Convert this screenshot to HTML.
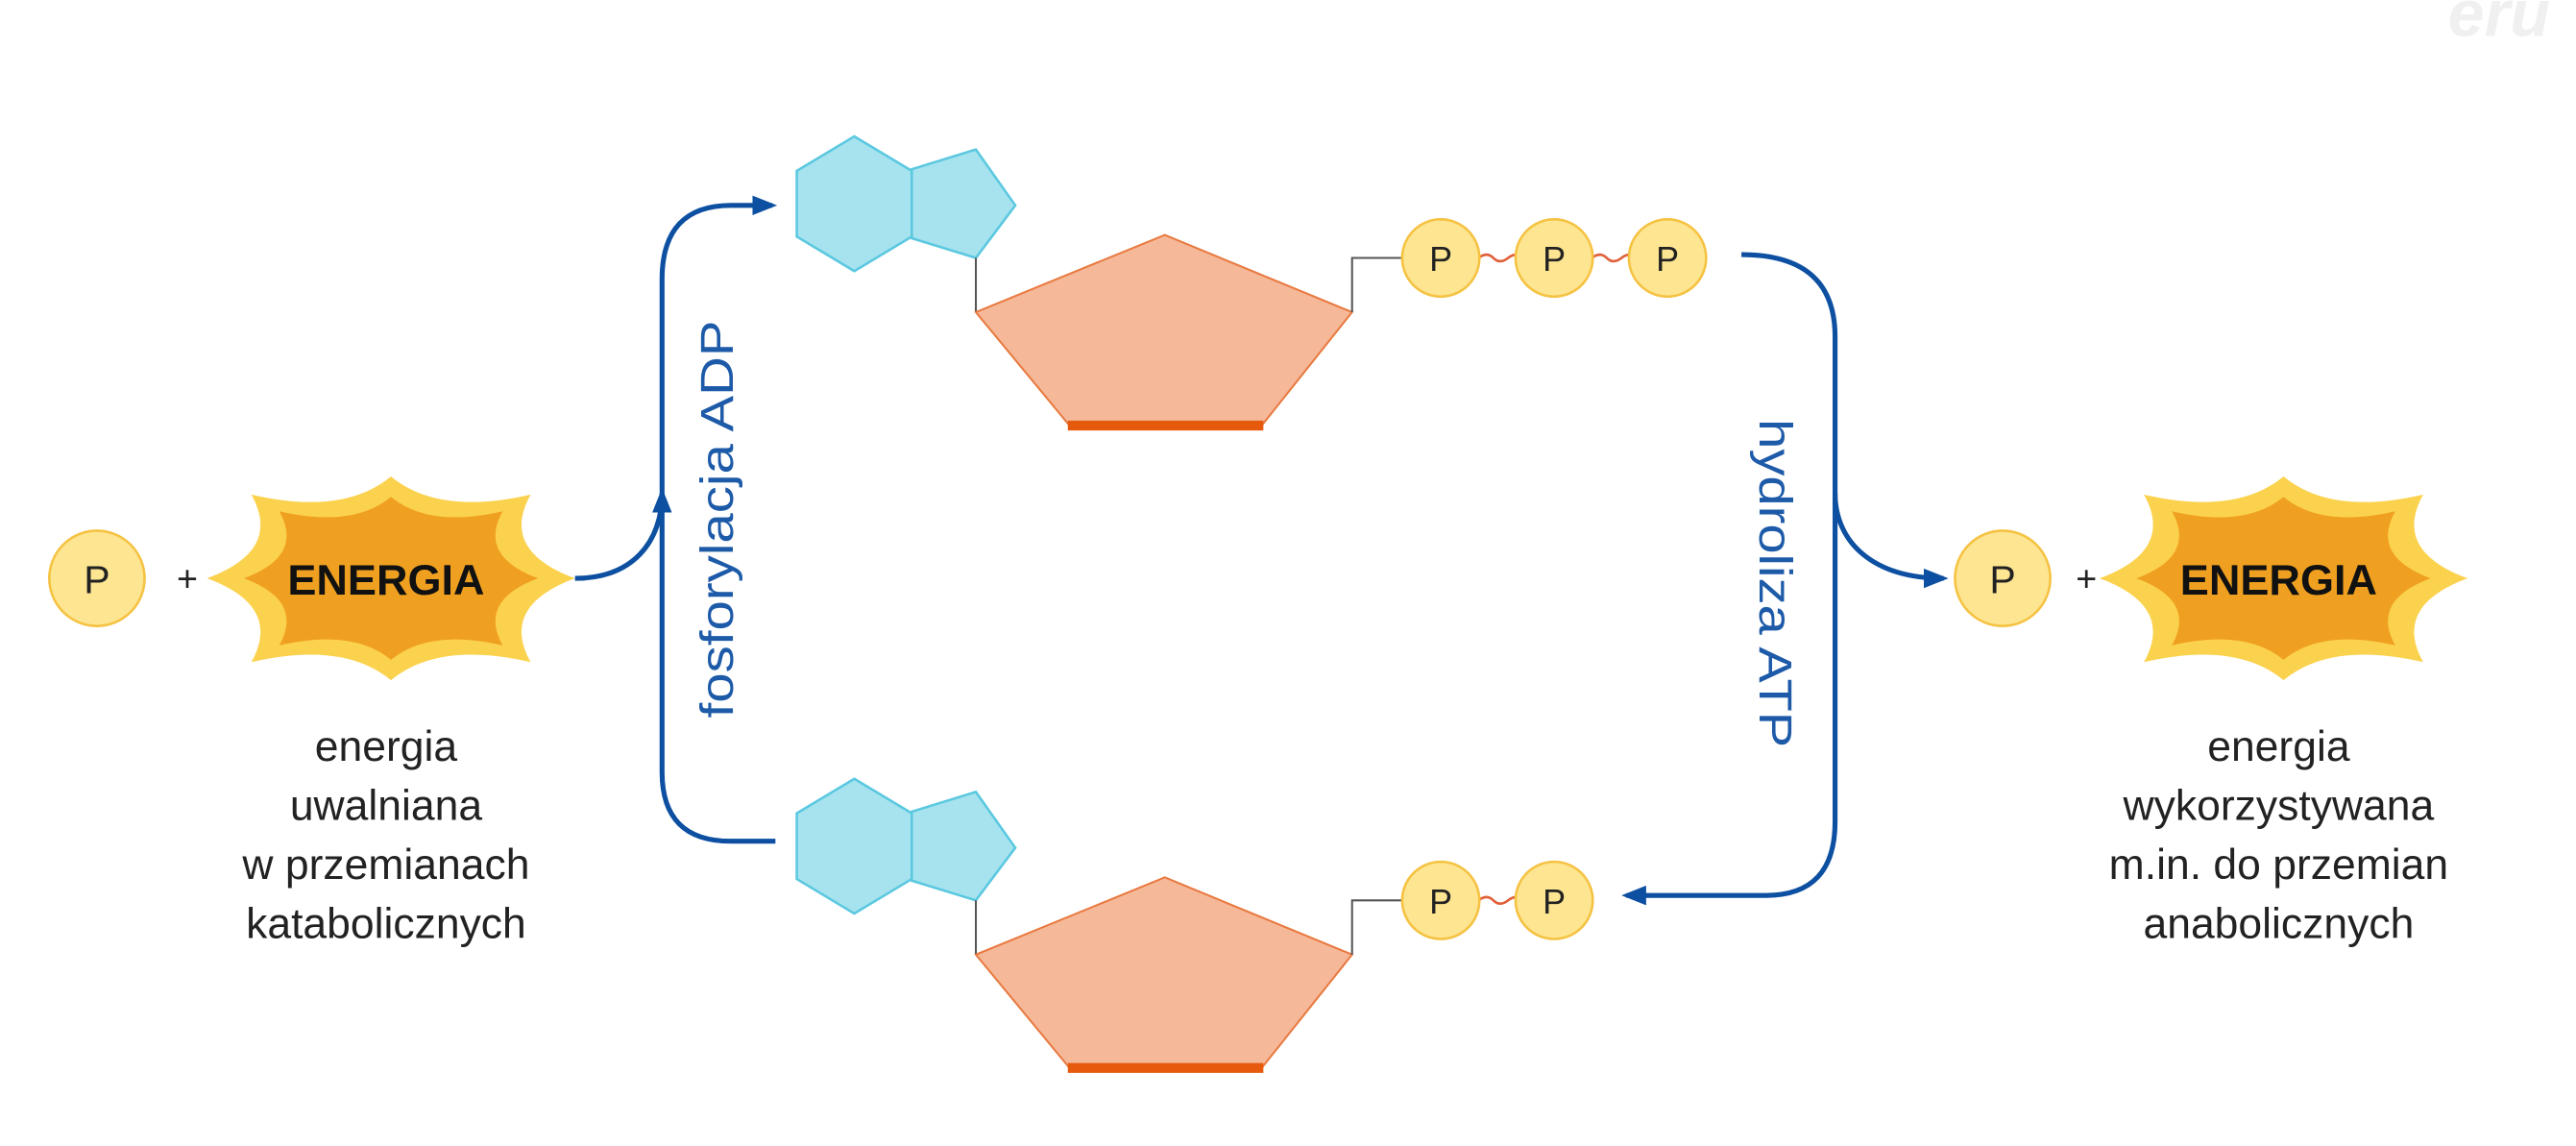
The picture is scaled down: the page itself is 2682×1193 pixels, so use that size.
<!DOCTYPE html>
<html><head><meta charset="utf-8"><style>
html,body{margin:0;padding:0;background:#fff;}
svg{display:block;}
text{font-family:"Liberation Sans",sans-serif;}
</style></head><body>
<svg width="2682" height="1193" viewBox="0 0 1568 697.5" preserveAspectRatio="none" xmlns="http://www.w3.org/2000/svg">
<defs>
<path id="star" d="M112,0 Q66,-17 85,-51 Q29,-38 0,-62 Q-29,-38 -85,-51 Q-66,-17 -112,0 Q-66,17 -85,51 Q-29,38 0,62 Q29,38 85,51 Q66,17 112,0Z"/>
<marker id="ah" viewBox="0 0 10 10" refX="8" refY="5" markerWidth="5" markerHeight="5" orient="auto"><path d="M0,1 L10,5 L0,9Z" fill="#0d4fa0"/></marker>
<g id="nuc">
  <polygon points="520,83 555,104 555,144 520,165 485,144 485,104" fill="#a6e3ef" stroke="#5bc8e0" stroke-width="1.5"/>
  <polygon points="555,103 594,91 618,125 594,157 555,145" fill="#a6e3ef" stroke="#5bc8e0" stroke-width="1.5"/>
  <polyline points="594,157 594,190" fill="none" stroke="#555" stroke-width="1.2"/>
  <polygon points="709,143 823,190 768,259 651,259 594,190" fill="#f5b899" stroke="#e87a40" stroke-width="1.2"/>
  <line x1="650" y1="259" x2="769" y2="259" stroke="#e55a0c" stroke-width="6"/>
  <polyline points="823,190 823,157 855,157" fill="none" stroke="#555" stroke-width="1.2"/>
</g>
<g id="pc"><circle r="23.5" fill="#fde591" stroke="#f5c242" stroke-width="1.5"/><text y="8" text-anchor="middle" font-size="21" fill="#222">P</text></g>
<path id="wv" d="M0,0 q5,-4 9,0 t9,0 t9,0" fill="none" stroke="#e0603a" stroke-width="1.5"/>
</defs>
<text x="1490" y="22" font-size="40" font-style="italic" font-weight="bold" fill="#f0f0f0">eru</text>

<!-- left -->
<g transform="translate(59,352)"><circle r="29" fill="#fde591" stroke="#f5c242" stroke-width="1.5"/><text y="9" text-anchor="middle" font-size="24" fill="#222">P</text></g>
<text x="114" y="360" text-anchor="middle" font-size="22" fill="#222">+</text>
<g transform="translate(238,352)"><use href="#star" fill="#fbd24e"/><use href="#star" fill="#f0a020" transform="scale(0.8)"/></g>
<text x="235" y="362" text-anchor="middle" font-size="26" font-weight="bold" fill="#111" textLength="120" lengthAdjust="spacingAndGlyphs">ENERGIA</text>
<g font-size="26" fill="#222" text-anchor="middle">
<text x="235" y="463">energia</text><text x="235" y="499">uwalniana</text><text x="235" y="535">w przemianach</text><text x="235" y="571">katabolicznych</text>
<text x="1387" y="463">energia</text><text x="1387" y="499">wykorzystywana</text><text x="1387" y="535">m.in. do przemian</text><text x="1387" y="571">anabolicznych</text>
</g>

<!-- nucleotides -->
<use href="#nuc"/>
<use href="#nuc" transform="translate(0,391)"/>
<use href="#wv" x="900" y="157"/><use href="#wv" x="969" y="157"/>
<use href="#pc" x="877" y="157"/><use href="#pc" x="946" y="157"/><use href="#pc" x="1015" y="157"/>
<use href="#wv" x="900" y="548"/>
<use href="#pc" x="877" y="548"/><use href="#pc" x="946" y="548"/>

<!-- arrows -->
<g fill="none" stroke="#0d4fa0" stroke-width="3">
<path d="M350,352 C385,352 403,330 403,300" marker-end="url(#ah)"/>
<path d="M472,512 L445,512 Q403,512 403,470 L403,170 Q403,125 445,125 L470,125" marker-end="url(#ah)"/>
<path d="M1060,155 Q1117,155 1117,205 L1117,500 Q1117,545 1075,545 L990,545" marker-end="url(#ah)"/>
<path d="M1117,300 C1117,330 1140,352 1183,352" marker-end="url(#ah)"/>
</g>
<text transform="translate(446,316) rotate(-90)" text-anchor="middle" font-size="28" fill="#1d5aa8" textLength="242" lengthAdjust="spacingAndGlyphs">fosforylacja ADP</text>
<text transform="translate(1071,355) rotate(90)" text-anchor="middle" font-size="28" fill="#1d5aa8" textLength="200" lengthAdjust="spacingAndGlyphs">hydroliza ATP</text>

<!-- right -->
<g transform="translate(1219,352)"><circle r="29" fill="#fde591" stroke="#f5c242" stroke-width="1.5"/><text y="9" text-anchor="middle" font-size="24" fill="#222">P</text></g>
<text x="1270" y="360" text-anchor="middle" font-size="22" fill="#222">+</text>
<g transform="translate(1390,352)"><use href="#star" fill="#fbd24e"/><use href="#star" fill="#f0a020" transform="scale(0.8)"/></g>
<text x="1387" y="362" text-anchor="middle" font-size="26" font-weight="bold" fill="#111" textLength="120" lengthAdjust="spacingAndGlyphs">ENERGIA</text>
</svg>
</body></html>
